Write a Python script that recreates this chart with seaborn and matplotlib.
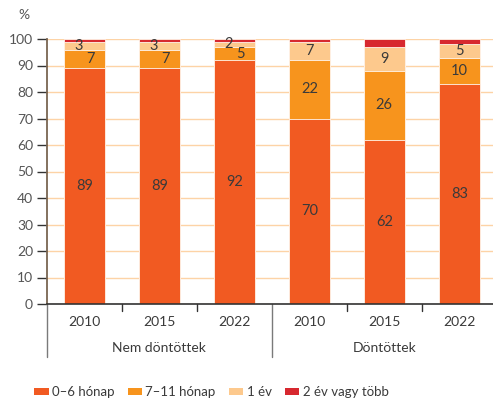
import numpy as np
import pandas as pd
import matplotlib.pyplot as plt
import matplotlib.transforms as mtransforms
from matplotlib.patches import Patch
import seaborn as sns

# ==========================================
# Data
# ==========================================

groups = ["Nem döntöttek", "Döntöttek"]
years = ["2010", "2015", "2022", "2010", "2015", "2022"]
series_names = ["0–6 hónap", "7–11 hónap", "1 év", "2 év vagy több"]

s_0_6 = [89, 89, 92, 70, 62, 83]
s_7_11 = [7, 7, 5, 22, 26, 10]
s_1ev = [3, 3, 2, 7, 9, 5]
s_2ev = [1, 1, 1, 1, 3, 2]

colors = ["#F15A22", "#F7941D", "#FDC98D", "#D7282F"]
text_color = "#3a3a3a"

# ==========================================
# Plot
# ==========================================

sns.set_style("white")
plt.rcParams["font.family"] = ["Lato", "DejaVu Sans"]

fig = plt.figure(figsize=(4.93, 4.03), dpi=100)
ax = fig.add_axes([47 / 493, 1 - 304 / 403, 446 / 493, 265 / 403])

cats = [f"{g} {y}" for g in groups for y in ["2010", "2015", "2022"]]
values = [s_0_6, s_7_11, s_1ev, s_2ev]
cum = np.cumsum(np.array(values), axis=0)

# draw cumulative totals from top down so lower segments cover upper ones
for i in range(len(values) - 1, -1, -1):
    df = pd.DataFrame({"cat": cats, "val": cum[i]})
    sns.barplot(data=df, x="cat", y="val", order=cats, color=colors[i],
                width=0.55, edgecolor="#fff5ec", linewidth=0.6,
                saturation=1, ax=ax, zorder=2)

# segment labels (not on the thin red segment)
for i in range(3):
    for j, v in enumerate(values[i]):
        mid = cum[i][j] - v / 2
        dx = 0.0
        if j < 3 and i == 1:
            dx = 0.08
        elif j < 3 and i == 2:
            dx = -0.08
        ax.text(j + dx, mid, str(v), ha="center", va="center", fontsize=10.5,
                color=text_color, zorder=3)

ax.set_xlim(-0.5, 5.45)
ax.set_ylim(0, 100)
ax.set_yticks(range(0, 101, 10))
ax.set_yticklabels([str(t) for t in range(0, 101, 10)], fontsize=10,
                   color="#555555")
ax.yaxis.grid(True, color="#FDD3A6", linewidth=1, zorder=0)
ax.set_axisbelow(True)
ax.tick_params(axis="y", length=7, width=1, color="#333333", direction="out",
               pad=3, left=True)

ax.set_xticks([])
ax.set_xlabel("")
ax.set_ylabel("")

for side in ["top", "right"]:
    ax.spines[side].set_visible(False)
ax.spines["left"].set_color("#7a6652")
ax.spines["left"].set_linewidth(1.3)
ax.spines["bottom"].set_color("#333333")
ax.spines["bottom"].set_linewidth(1.2)

trans = mtransforms.blended_transform_factory(ax.transData, ax.transAxes)

# year and group labels
for j, y in enumerate(years):
    ax.text(j, -0.068, y, transform=trans, ha="center", va="center",
            fontsize=10, color=text_color)
for k, g in enumerate(groups):
    ax.text(1 + 3 * k, -0.167, g, transform=trans, ha="center", va="center",
            fontsize=10, color=text_color)

# small ticks between years, long separators between groups
for xb in [0.5, 1.5, 3.5, 4.5]:
    ax.plot([xb, xb], [0, -0.028], transform=trans, color="#333333",
            linewidth=1, clip_on=False)
for xb in [-0.5, 2.5]:
    ax.plot([xb, xb], [0, -0.2], transform=trans, color="#7a7a7a",
            linewidth=1, clip_on=False)

ax.text(-0.065, 1.09, "%", transform=ax.transAxes, ha="left", va="center",
        fontsize=10, color="#555555")

handles = [Patch(facecolor=c, edgecolor="none") for c in colors]
fig.legend(handles, series_names, loc="center left",
           bbox_to_anchor=(0.045, 1 - 392 / 403), ncol=4, frameon=False,
           fontsize=9.5, handlelength=1.1, handleheight=0.4,
           handletextpad=0.25, columnspacing=1.0, labelcolor=text_color)

plt.savefig("out.png", dpi=100)
plt.close()
